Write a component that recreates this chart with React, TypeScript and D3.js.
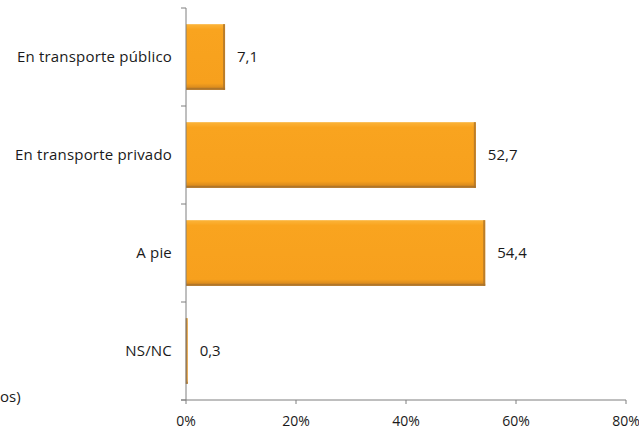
import React from "react";
import * as d3 from "d3";

const categories = ["En transporte público", "En transporte privado", "A pie", "NS/NC"];
const values = [7.1, 52.7, 54.4, 0.3];
const valueLabels = ["7,1", "52,7", "54,4", "0,3"];
const xTicks = [0, 20, 40, 60, 80];
const noteText = "os)";

const W = 639;
const H = 433;
const left = 186;
const right = 626;
const top = 8;
const bottom = 400;
const font = "'Open Sans', 'Noto Sans', sans-serif";
const fs = 15;

export default function App() {
  const x = d3.scaleLinear().domain([0, 80]).range([left, right]);
  const y = d3.scaleBand<string>().domain(categories).range([top, bottom]).paddingInner(0.33).paddingOuter(0.165);
  const boundaries = d3.range(categories.length + 1).map((i) => top + (i * (bottom - top)) / categories.length);
  const axisColor = "#7f7f7f";
  return (
    <svg width={W} height={H} style={{ position: "absolute", left: 0, top: 0, background: "#fff" }}>
      <defs>
        <linearGradient id="barGrad" x1="0" y1="0" x2="0" y2="1">
          <stop offset="0" stopColor="#fbb43a" />
          <stop offset="0.08" stopColor="#f9a41f" />
          <stop offset="0.9" stopColor="#f7a01d" />
          <stop offset="1" stopColor="#c9801f" />
        </linearGradient>
      </defs>
      {categories.map((c, i) => {
        const by = y(c)!;
        const bh = y.bandwidth();
        const bw = x(values[i]) - x(0);
        return (
          <g key={c}>
            <rect x={x(0)} y={by} width={bw} height={bh} fill="url(#barGrad)" />
            <rect x={x(0) + bw - 2} y={by} width={Math.min(2, bw)} height={bh} fill="#b2772a" opacity={0.85} />
            <rect x={x(0)} y={by + bh - 2} width={bw} height={2} fill="#a8722c" opacity={0.8} />
            <text x={x(values[i]) + 12} y={by + bh / 2} dy="0.35em" fontFamily={font} fontSize={fs} fill="#1a1a1a">
              {valueLabels[i]}
            </text>
            <text x={172} y={by + bh / 2} dy="0.35em" textAnchor="end" fontFamily={font} fontSize={fs} letterSpacing={0.2} fill="#1a1a1a">
              {c}
            </text>
          </g>
        );
      })}
      <line x1={left} x2={left} y1={top} y2={bottom} stroke={axisColor} strokeWidth={1} />
      {boundaries.map((b, i) => (
        <line key={i} x1={left - 5} x2={left} y1={b} y2={b} stroke={axisColor} />
      ))}
      <line x1={left - 5} x2={right} y1={bottom} y2={bottom} stroke={axisColor} />
      {xTicks.map((t) => (
        <g key={t}>
          <line x1={x(t)} x2={x(t)} y1={bottom} y2={bottom + 4} stroke={axisColor} />
          <text x={x(t)} y={426} textAnchor="middle" fontFamily={font} fontSize={14} fill="#1a1a1a">
            {t}%
          </text>
        </g>
      ))}
      <text x={0} y={402} fontFamily={font} fontSize={fs} fill="#1a1a1a">
        {noteText}
      </text>
    </svg>
  );
}
